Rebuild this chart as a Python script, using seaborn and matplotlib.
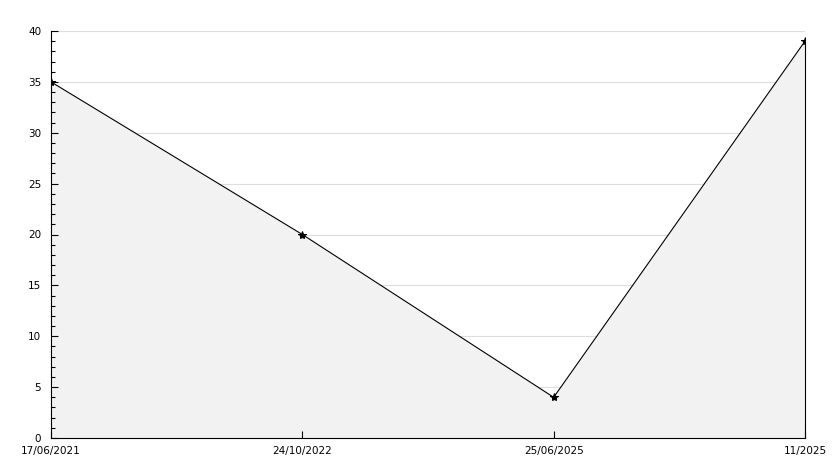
import pandas as pd
import matplotlib
matplotlib.use("Agg")
import matplotlib.pyplot as plt
import seaborn as sns
from matplotlib.ticker import MultipleLocator

dates = ["17/06/2021", "24/10/2022", "25/06/2025", "11/2025"]
values = [35, 20, 4, 39]

df = pd.DataFrame({"pos": range(len(dates)), "value": values})

sns.set_style("white")
plt.rcParams["font.family"] = ["DejaVu Sans"]
plt.rcParams["text.color"] = "black"
plt.rcParams["xtick.color"] = "black"
plt.rcParams["ytick.color"] = "black"

fig = plt.figure(figsize=(8.34, 4.68), dpi=100)
ax = fig.add_axes([51 / 834, 30 / 468, 754 / 834, 407 / 468])
ax.set_axisbelow(False)

ax.set_xlim(0, len(dates) - 1)
ax.set_ylim(0, 40)
ax.set_xticks(df["pos"])
ax.set_xticklabels(dates)
ax.yaxis.set_major_locator(MultipleLocator(5))
ax.yaxis.set_minor_locator(MultipleLocator(1))

# grid below the filled area, ticks above it
ax.hlines(ax.get_yticks()[1:], 0, len(dates) - 1, color="#dddddd", linewidth=0.8, zorder=0.5)
ax.fill_between(df["pos"], df["value"], 0, color="#f2f2f2", linewidth=0, zorder=1)
sns.lineplot(data=df, x="pos", y="value", ax=ax, color="black", linewidth=0.8,
             marker="*", markersize=6, markeredgecolor="black", zorder=3)
ax.vlines(df["pos"].iloc[-1], 0, df["value"].iloc[-1], color="black", linewidth=0.8,
          zorder=2, clip_on=False)
ax.set_xlim(0, len(dates) - 1)
ax.set_ylim(0, 40)

for side in ["top", "right"]:
    ax.spines[side].set_visible(False)
for side in ["left", "bottom"]:
    ax.spines[side].set_color("black")
    ax.spines[side].set_linewidth(0.8)

ax.tick_params(axis="y", which="major", direction="in", length=5, width=0.8, labelsize=7.5, pad=7, left=True)
ax.tick_params(axis="y", which="minor", direction="in", length=3, width=0.8, left=True)
ax.tick_params(axis="x", which="major", direction="in", length=5, width=0.8, labelsize=7.5, pad=6, bottom=True)
ax.set_xlabel("")
ax.set_ylabel("")

fig.savefig("out.png", dpi=100)
